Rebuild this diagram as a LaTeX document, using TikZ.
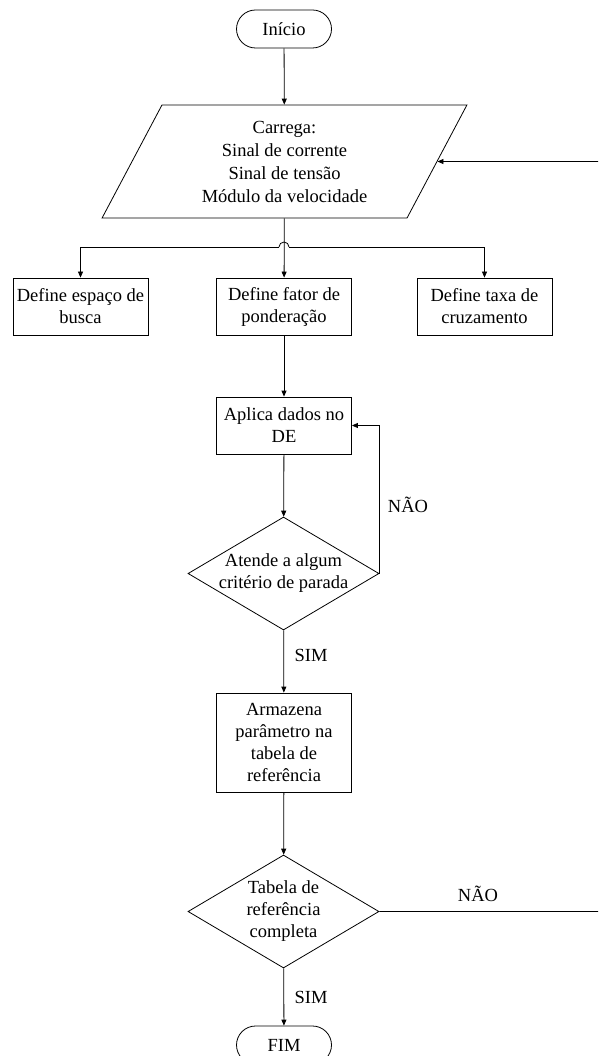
\documentclass[tikz,border=0pt]{standalone}
\usepackage{fontspec}
\setmainfont{Liberation Serif}
\usetikzlibrary{shapes.geometric,shapes.misc,arrows.meta}
\begin{document}
\begin{tikzpicture}[x=1pt,y=-1pt,
  every node/.style={font=\fontsize{18.5}{22}\selectfont, align=center},
  flow/.style={draw=black, line width=0.8pt},
  terminal/.style={flow, rounded rectangle, minimum width=95pt, minimum height=38pt, inner sep=0pt},
  process/.style={flow, rectangle, inner sep=1pt, minimum width=135pt},
  loadio/.style={flow, trapezium, trapezium left angle=63.6, trapezium right angle=116.4,
    trapezium stretches=true, minimum width=365pt, minimum height=113pt, inner sep=0pt,
    font=\fontsize{18.5}{23}\selectfont},
  decision/.style={flow, diamond, aspect=1.69, inner xsep=-10pt, inner ysep=0pt,
    minimum width=191pt, minimum height=113pt},
  link/.style={line width=0.8pt, -{Triangle[length=6pt,width=5pt]}},
  wire/.style={line width=0.8pt},
  tag/.style={inner sep=0pt}
]
\path[use as bounding box, clip] (0,0) rectangle (598,1056);

% main column
\node[terminal] (start) at (284,29) {Início};
\node[loadio] (load) at (284.5,161.5) {Carrega:\\Sinal de corrente\\Sinal de tensão\\Módulo da velocidade};
\node[process, minimum height=57pt] (espaco) at (80.5,306.5) {Define espaço de\\busca};
\node[process, minimum height=57pt] (fator) at (284,306.5) {Define fator de\\ponderação};
\node[process, minimum height=57pt] (taxa) at (484.5,306.5) {Define taxa de\\cruzamento};
\node[process, minimum height=57pt] (aplica) at (284,425.5) {Aplica dados no\\DE};
\node[decision] (crit) at (283.5,573.5) {Atende a algum\\critério de parada};
\node[process, minimum height=99pt] (armazena) at (284,742.5) {Armazena\\parâmetro na\\tabela de\\referência};
\node[decision] (tabela) at (283.5,911.5) {Tabela de\\referência\\completa};
\node[terminal] (fim) at (284,1045) {FIM};

% branch line over the main connector
\coordinate (hopL) at (279,247);
\coordinate (hopR) at (289,247);
\coordinate (ret1) at (604,911.5);
\coordinate (ret2) at (604,161.5);

% connectors
\draw[link] (start) -- (load);
\draw[link] (load) -- (fator);
\draw[link] (hopL) -| (espaco);
\draw[link] (hopR) -| (taxa);
\draw[wire] (hopL) arc[start angle=180, end angle=360, radius=5];
\draw[link] (fator) -- (aplica);
\draw[link] (aplica) -- (crit);
\draw[link] (crit.east) |- (aplica.east);
\draw[link] (crit) -- (armazena);
\draw[link] (armazena) -- (tabela);
\draw[link] (tabela) -- (fim);
\draw[link] (tabela.east) -- (ret1) -- (ret2) -- (load);

% labels
\node[tag] (nao1) at (408,505) {NÃO};
\node[tag] (sim1) at (311,655) {SIM};
\node[tag] (nao2) at (478,894) {NÃO};
\node[tag] (sim2) at (311,997) {SIM};
\end{tikzpicture}
\end{document}
